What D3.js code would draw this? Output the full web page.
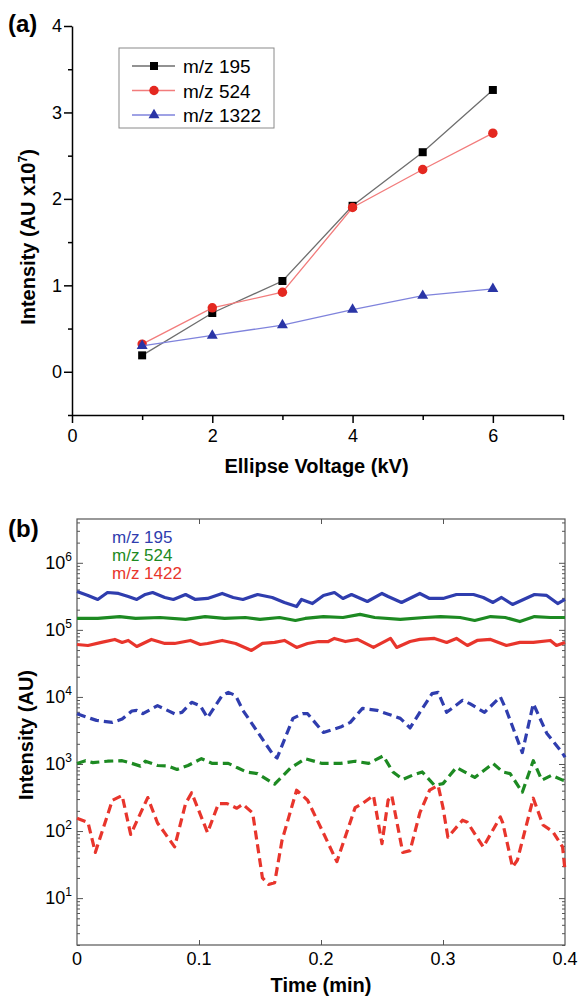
<!DOCTYPE html>
<html>
<head>
<meta charset="utf-8">
<script src="https://cdn.jsdelivr.net/npm/d3@7/dist/d3.min.js"></script>
<style>
  body { margin: 0; background: #fff; }
  svg { font-family: "Liberation Sans", Arial, sans-serif; }
</style>
</head>
<body>
<svg id="chart" width="579" height="1000"></svg>
<script>
// ---- panel (a): intensity vs ellipse voltage ----
const voltages = [1, 2, 3, 4, 5, 6];
const mz195 = [0.19, 0.68, 1.05, 1.92, 2.54, 3.26];
const mz524 = [0.32, 0.74, 0.92, 1.90, 2.34, 2.76];
const mz1322 = [0.30, 0.42, 0.54, 0.72, 0.88, 0.96];
const legendA = ["m/z 195", "m/z 524", "m/z 1322"];

// ---- panel (b): intensity vs time, [time (min), intensity (AU)] ----
const legendB = ["m/z 195", "m/z 524", "m/z 1422"];

const blueSolid = [[0,3.73e5],[0.009,3.26e5],[0.017,2.84e5],[0.025,3.61e5],[0.034,3.49e5],[0.042,3.15e5],[0.049,2.84e5],[0.056,3.37e5],[0.062,3.61e5],[0.072,3.04e5],[0.079,2.84e5],[0.089,3.37e5],[0.097,2.84e5],[0.107,2.94e5],[0.119,3.49e5],[0.128,3.04e5],[0.136,2.84e5],[0.148,3.37e5],[0.160,3.04e5],[0.170,2.56e5],[0.180,2.23e5],[0.184,2.84e5],[0.193,2.47e5],[0.202,3.26e5],[0.211,3.61e5],[0.218,2.94e5],[0.225,3.37e5],[0.238,2.65e5],[0.250,3.49e5],[0.255,3.15e5],[0.266,2.56e5],[0.281,3.49e5],[0.289,2.94e5],[0.300,2.94e5],[0.311,3.37e5],[0.325,3.37e5],[0.333,3.04e5],[0.341,2.56e5],[0.348,3.04e5],[0.357,2.39e5],[0.366,2.84e5],[0.375,3.37e5],[0.385,3.26e5],[0.394,2.47e5],[0.400,2.84e5]];

const greenSolid = [[0,1.48e5],[0.017,1.48e5],[0.035,1.58e5],[0.048,1.48e5],[0.068,1.53e5],[0.089,1.43e5],[0.105,1.58e5],[0.121,1.48e5],[0.138,1.53e5],[0.150,1.43e5],[0.166,1.53e5],[0.179,1.38e5],[0.187,1.48e5],[0.202,1.58e5],[0.218,1.53e5],[0.232,1.70e5],[0.244,1.53e5],[0.265,1.43e5],[0.285,1.53e5],[0.298,1.58e5],[0.314,1.53e5],[0.326,1.38e5],[0.339,1.58e5],[0.351,1.53e5],[0.363,1.33e5],[0.375,1.58e5],[0.388,1.53e5],[0.400,1.53e5]];

const redSolid = [[0,6.05e4],[0.009,5.85e4],[0.020,6.5e4],[0.031,7.2e4],[0.037,6.5e4],[0.042,6.95e4],[0.049,5.66e4],[0.061,7.2e4],[0.072,6.27e4],[0.080,6.27e4],[0.093,6.95e4],[0.101,6.05e4],[0.107,6.27e4],[0.119,6.95e4],[0.130,6.27e4],[0.143,4.93e4],[0.152,6.27e4],[0.162,6.5e4],[0.170,6.95e4],[0.180,5.47e4],[0.189,6.27e4],[0.198,6.7e4],[0.206,6.7e4],[0.211,7.45e4],[0.220,6.7e4],[0.230,7.2e4],[0.243,5.47e4],[0.257,7.45e4],[0.262,5.47e4],[0.273,6.7e4],[0.281,7.2e4],[0.293,7.45e4],[0.303,6.5e4],[0.311,7.45e4],[0.320,5.85e4],[0.328,6.95e4],[0.339,7.2e4],[0.352,5.85e4],[0.363,6.5e4],[0.374,6.5e4],[0.388,6.95e4],[0.393,5.85e4],[0.400,6.5e4]];

const blueDashed = [[0,5620],[0.011,4790],[0.016,4470],[0.029,4170],[0.037,4680],[0.045,6170],[0.049,6310],[0.054,5620],[0.066,7410],[0.080,5620],[0.086,5890],[0.094,8320],[0.101,7410],[0.107,4900],[0.119,10500],[0.124,11700],[0.130,10500],[0.136,6310],[0.161,1350],[0.164,1230],[0.177,4790],[0.185,5620],[0.189,5620],[0.202,2950],[0.216,3550],[0.224,4170],[0.234,6760],[0.246,6310],[0.254,5620],[0.265,4790],[0.273,3450],[0.281,5890],[0.291,11200],[0.296,11700],[0.303,5890],[0.316,8910],[0.322,7940],[0.334,5890],[0.347,10000],[0.352,6310],[0.365,1480],[0.374,7940],[0.385,2880],[0.398,1450],[0.400,1260]];

const greenDashed = [[0,1020],[0.007,1120],[0.013,1050],[0.025,1100],[0.037,1120],[0.043,1050],[0.052,930],[0.056,1100],[0.066,950],[0.075,930],[0.082,830],[0.091,950],[0.102,1200],[0.111,1020],[0.124,1020],[0.132,870],[0.139,760],[0.148,720],[0.162,500],[0.175,870],[0.187,1200],[0.201,1020],[0.216,1020],[0.228,1100],[0.239,1020],[0.251,1320],[0.259,760],[0.267,590],[0.275,680],[0.283,760],[0.293,480],[0.300,510],[0.311,890],[0.326,630],[0.341,1020],[0.349,760],[0.355,720],[0.365,380],[0.374,1120],[0.381,575],[0.389,680],[0.398,575],[0.400,575]];

const redDashed = [[0,155],[0.009,135],[0.015,48],[0.029,288],[0.037,339],[0.044,89],[0.058,316],[0.066,132],[0.072,93],[0.080,58],[0.089,257],[0.094,372],[0.107,95],[0.116,257],[0.123,257],[0.131,219],[0.136,251],[0.139,224],[0.144,186],[0.152,20],[0.157,16],[0.162,17],[0.168,72],[0.180,407],[0.189,288],[0.202,93],[0.213,35],[0.228,224],[0.234,257],[0.243,339],[0.250,65],[0.255,288],[0.258,339],[0.267,48],[0.273,51],[0.281,186],[0.289,407],[0.296,479],[0.300,224],[0.304,81],[0.316,145],[0.320,135],[0.333,58],[0.347,162],[0.349,132],[0.357,29],[0.361,37],[0.374,309],[0.382,123],[0.390,98],[0.398,58],[0.400,26]];

const svg = d3.select("#chart");
const font = "Liberation Sans, Arial, sans-serif";

// ================= panel (a) =================
const xA = d3.scaleLinear().domain([0, 7]).range([72, 563]);
const yA = d3.scaleLinear().domain([-0.5, 4]).range([415, 26]);

const gA = svg.append("g");

// y axis: major ticks with labels, minor half steps
gA.append("g")
    .attr("transform", `translate(${xA(0)},0)`)
    .call(d3.axisLeft(yA).tickValues([-0.5, 0.5, 1.5, 2.5, 3.5]).tickSize(4).tickFormat("").tickSizeOuter(0))
    .call(g => g.select(".domain").remove());
gA.append("g")
    .attr("transform", `translate(${xA(0)},0)`)
    .style("font-size", "18px")
    .call(d3.axisLeft(yA).tickValues([0, 1, 2, 3, 4]).tickSize(8).tickPadding(2)
        .tickFormat(d3.format("d")).tickSizeOuter(0))
    .call(g => g.selectAll("text").attr("font-family", font));

// x axis
gA.append("g")
    .attr("transform", `translate(0,${yA(-0.5)})`)
    .call(d3.axisBottom(xA).tickValues([1, 3, 5, 7]).tickSize(5).tickFormat("").tickSizeOuter(0))
    .call(g => g.select(".domain").remove());
gA.append("g")
    .attr("transform", `translate(0,${yA(-0.5)})`)
    .style("font-size", "18px")
    .call(d3.axisBottom(xA).tickValues([0, 2, 4, 6]).tickSize(8).tickPadding(6)
        .tickFormat(d3.format("d")).tickSizeOuter(0))
    .call(g => g.selectAll("text").attr("font-family", font));

gA.selectAll(".domain, .tick line").attr("stroke", "#000").attr("stroke-width", 1.5);

const seriesA = [
    { name: legendA[0], values: mz195, line: "#6e6e6e", mark: "#000000", symbol: d3.symbolSquare, size: 64 },
    { name: legendA[1], values: mz524, line: "#f27c7c", mark: "#e42820", symbol: d3.symbolCircle, size: 70 },
    { name: legendA[2], values: mz1322, line: "#7f83dc", mark: "#2a35a6", symbol: d3.symbolTriangle, size: 52 }
];

const lineA = d3.line().x(d => xA(d[0])).y(d => yA(d[1]));

seriesA.forEach(s => {
    const pts = voltages.map((v, i) => [v, s.values[i]]);
    gA.append("path")
        .datum(pts)
        .attr("fill", "none")
        .attr("stroke", s.line)
        .attr("stroke-width", 1.3)
        .attr("d", lineA);
    gA.selectAll(null)
        .data(pts)
        .enter()
        .append("path")
        .attr("transform", d => `translate(${xA(d[0])},${yA(d[1])})`)
        .attr("d", d3.symbol().type(s.symbol).size(s.size))
        .attr("fill", s.mark);
});

// legend box
const legA = gA.append("g").attr("transform", "translate(119,48)");
legA.append("rect")
    .attr("width", 155).attr("height", 80)
    .attr("fill", "#fff").attr("stroke", "#8a8a8a").attr("stroke-width", 1);
seriesA.forEach((s, i) => {
    const ly = 18 + i * 24.5;
    legA.append("line")
        .attr("x1", 13).attr("x2", 56).attr("y1", ly).attr("y2", ly)
        .attr("stroke", s.line).attr("stroke-width", 1.3);
    legA.append("path")
        .attr("transform", `translate(35,${ly})`)
        .attr("d", d3.symbol().type(s.symbol).size(s.size))
        .attr("fill", s.mark);
    legA.append("text")
        .attr("x", 64).attr("y", ly + 7)
        .style("font-size", "19px")
        .text(s.name);
});

// titles
gA.append("text")
    .attr("x", 8).attr("y", 32)
    .style("font-size", "24px").style("font-weight", "bold")
    .text("(a)");
gA.append("text")
    .attr("x", xA(3.5) - 1).attr("y", 473)
    .attr("text-anchor", "middle")
    .style("font-size", "20px").style("font-weight", "bold")
    .text("Ellipse Voltage (kV)");
const yTitleA = gA.append("text")
    .attr("transform", "translate(35,237) rotate(-90)")
    .attr("text-anchor", "middle")
    .style("font-size", "20px").style("font-weight", "bold");
yTitleA.append("tspan").text("Intensity (AU x10");
yTitleA.append("tspan").attr("dy", -8).style("font-size", "12px").text("7");
yTitleA.append("tspan").attr("dy", 8).text(")");

// ================= panel (b) =================
const xB = d3.scaleLinear().domain([0, 0.4]).range([77, 565]);
const yB = d3.scaleLog().domain([2, 4.5e6]).range([945, 519]);

const gB = svg.append("g");

const majorB = d3.range(0, 7).map(k => Math.pow(10, k)).filter(v => v >= 2 && v <= 4.5e6);
const minorB = [];
d3.range(0, 7).forEach(k => {
    d3.range(2, 10).forEach(m => {
        const v = m * Math.pow(10, k);
        if (v >= 2 && v <= 4.5e6) minorB.push(v);
    });
});

// inward ticks on all four sides
const tickColor = "#555";
[[d3.axisLeft, xB(0)], [d3.axisRight, xB(0.4)]].forEach(([ax, px]) => {
    gB.append("g")
        .attr("transform", `translate(${px},0)`)
        .call(ax(yB).tickValues(majorB).tickSize(-6).tickFormat("").tickSizeOuter(0))
        .call(g => g.select(".domain").remove());
    gB.append("g")
        .attr("transform", `translate(${px},0)`)
        .call(ax(yB).tickValues(minorB).tickSize(-3).tickFormat("").tickSizeOuter(0))
        .call(g => g.select(".domain").remove());
});
[[d3.axisBottom, yB(2)], [d3.axisTop, yB(4.5e6)]].forEach(([ax, py]) => {
    gB.append("g")
        .attr("transform", `translate(0,${py})`)
        .call(ax(xB).tickValues([0.1, 0.2, 0.3]).tickSize(-5).tickFormat("").tickSizeOuter(0))
        .call(g => g.select(".domain").remove());
});
gB.selectAll(".tick line").attr("stroke", tickColor).attr("stroke-width", 1);

gB.append("rect")
    .attr("x", xB(0)).attr("y", yB(4.5e6))
    .attr("width", xB(0.4) - xB(0)).attr("height", yB(2) - yB(4.5e6))
    .attr("fill", "none").attr("stroke", tickColor).attr("stroke-width", 1.2);

// tick labels
gB.selectAll(".xlab")
    .data([0, 0.1, 0.2, 0.3, 0.4])
    .enter()
    .append("text")
    .attr("x", d => xB(d)).attr("y", 965)
    .attr("text-anchor", "middle")
    .style("font-size", "18px")
    .text(d => d === 0 ? "0" : d3.format(".1f")(d));

gB.selectAll(".ylab")
    .data(majorB)
    .enter()
    .append("text")
    .attr("x", xB(0) - 5).attr("y", d => yB(d) + 6)
    .attr("text-anchor", "end")
    .style("font-size", "18px")
    .each(function (d) {
        const t = d3.select(this);
        t.append("tspan").text("10");
        t.append("tspan").attr("dy", -8).style("font-size", "12px").text(Math.round(Math.log10(d)));
    });

// lines
const blue = "#2f3dae", green = "#1d8a22", red = "#e8352c";
const lineB = d3.line().x(d => xB(d[0])).y(d => yB(d[1]));
const seriesB = [
    { data: blueSolid, color: blue, dash: null },
    { data: greenSolid, color: green, dash: null },
    { data: redSolid, color: red, dash: null },
    { data: blueDashed, color: blue, dash: "9,5" },
    { data: greenDashed, color: green, dash: "9,5" },
    { data: redDashed, color: red, dash: "9,5" }
];
seriesB.forEach(s => {
    gB.append("path")
        .datum(s.data)
        .attr("fill", "none")
        .attr("stroke", s.color)
        .attr("stroke-width", 3.2)
        .attr("stroke-linejoin", "round")
        .attr("stroke-dasharray", s.dash)
        .attr("d", lineB);
});

// legend text
[blue, green, red].forEach((c, i) => {
    gB.append("text")
        .attr("x", 112).attr("y", 543 + i * 18)
        .attr("fill", c)
        .style("font-size", "17px")
        .text(legendB[i]);
});

// titles
gB.append("text")
    .attr("x", 8).attr("y", 537)
    .style("font-size", "24px").style("font-weight", "bold")
    .text("(b)");
gB.append("text")
    .attr("x", xB(0.2)).attr("y", 992)
    .attr("text-anchor", "middle")
    .style("font-size", "20px").style("font-weight", "bold")
    .text("Time (min)");
gB.append("text")
    .attr("transform", "translate(33,735) rotate(-90)")
    .attr("text-anchor", "middle")
    .style("font-size", "20px").style("font-weight", "bold")
    .text("Intensity (AU)");
</script>
</body>
</html>
